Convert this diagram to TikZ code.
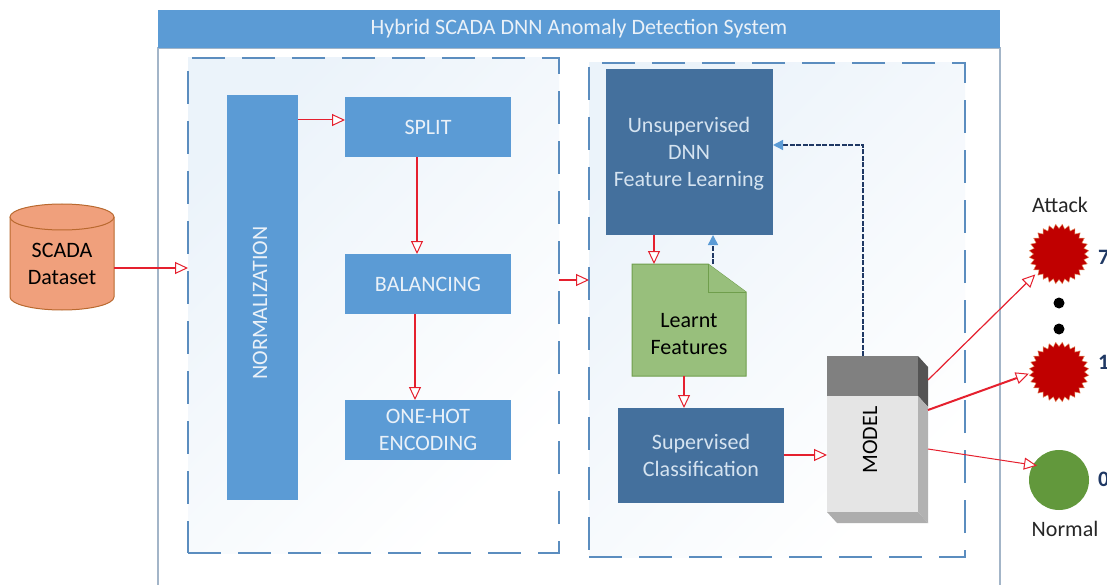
\documentclass[tikz,border=0pt]{standalone}
\usepackage{fontspec}
\setmainfont{Carlito}
\usetikzlibrary{arrows.meta,shapes.geometric,calc}
\definecolor{cBlue}{HTML}{5B9BD5}
\definecolor{cDeep}{HTML}{44709D}
\definecolor{cDash}{HTML}{5B8DBF}
\definecolor{cRed}{HTML}{E5202E}
\definecolor{cGreen}{HTML}{98BF7C}
\definecolor{cGreenD}{HTML}{6F9E4C}
\definecolor{cOrange}{HTML}{F0A07C}
\definecolor{cOrangeD}{HTML}{B9692F}
\definecolor{cNavy}{HTML}{1F3864}
\definecolor{cTxtL}{HTML}{EAF1F8}
\definecolor{cTxtD}{HTML}{D5E3F0}
\definecolor{cFrame}{HTML}{A3B5C8}
\definecolor{cBurst}{HTML}{C00000}
\definecolor{cBurstE}{HTML}{E8A070}
\definecolor{cNormal}{HTML}{62983C}
\tikzset{
  every node/.style={outer sep=0pt,inner sep=0pt,align=center,font=\fontsize{22}{27}\selectfont},
  light/.style={fill=cBlue,text=cTxtL},
  deep/.style={fill=cDeep,text=cTxtD},
  panel/.style={draw=cDash,line width=1.8pt,dash pattern=on 33pt off 17pt,left color=cBlue!12,right color=white,shading angle=45},
  flow/.style={draw=cRed,line width=#1,-{Triangle[open,length=13pt,width=12pt,fill=white,line width=1pt]}},
  flow/.default=2pt,
  back/.style={draw=cNavy,line width=1.5pt,dash pattern=on 5pt off 1.5pt,-{Triangle[length=10pt,width=10pt,fill=cBlue,color=cBlue]}},
  burst/.style={star,star points=28,star point ratio=0.85,minimum size=51pt,fill=cBurst,draw=cBurstE,line width=.4pt},
  outcome/.style={font=\fontsize{22}{24}\selectfont\bfseries,text=cNavy,anchor=west},
}
\newcommand{\bx}[6]{\node[#2,minimum width={#5-#3},minimum height={#6-#4}] (#1) at ({(#3+#5)/2},{(#4+#6)/2})}
\begin{document}
\begin{tikzpicture}[x=1pt,y=-1pt]
\useasboundingbox (0,0) rectangle (1107,585);
% system frame
\bx{body}{draw=cFrame,fill=white,line width=1.2pt}{158}{48}{1000}{590}{};
\bx{title}{fill=cBlue,text=cTxtL}{158}{10}{1000}{48}{Hybrid SCADA DNN Anomaly Detection System};
\bx{left}{panel}{188}{58}{559}{553}{};
\bx{right}{panel}{589}{63}{965}{557}{};
% left column
\bx{norm}{light}{227}{95}{298}{500}{};
\node[rotate=90,text=cTxtL] (normtext) at (260,303) {NORMALIZATION};
\bx{split}{light}{345}{97}{511}{157}{SPLIT};
\bx{balance}{light}{345}{254}{511}{314}{BALANCING};
\bx{onehot}{light}{345}{400}{511}{460}{ONE-HOT\\ENCODING};
% right column
\bx{unsup}{deep}{606}{69}{773}{235}{};
\node[text=cTxtD] (unsuptext) at (689,154) {Unsupervised\\DNN\\Feature Learning};
\bx{sup}{deep}{618}{408}{784}{503}{Supervised\\Classification};
% learnt features document
\bx{learnt}{}{632}{264}{746}{376}{};
\draw[cGreenD,fill=cGreen,line width=1pt] (632,264) -- (708,264) -- (746,292) -- (746,376) -- (632,376) -- cycle;
\draw[cGreenD,fill=cGreen,line width=1pt] (708,264) -- (708,292) -- (746,292);
\node[text=black] (learnttext) at (689,334) {Learnt\\Features};
% model block
\bx{model}{}{827}{356}{928}{523}{};
\fill[black!67] (918,356) -- (928,367) -- (928,407) -- (918,396) -- cycle;
\fill[black!30] (918,396) -- (928,407) -- (928,523) -- (918,512) -- cycle;
\fill[black!32] (827,512) -- (918,512) -- (928,523) -- (837,523) -- cycle;
\fill[black!10] (827,396) rectangle (918,512);
\fill[black!50] (827,356) rectangle (918,396);
\node[rotate=90,text=black] (modeltext) at (870,440) {MODEL};
% dataset cylinder
\bx{scada}{}{10}{204}{114}{310}{};
\draw[cOrangeD,fill=cOrange,line width=1pt] (10,217) -- (10,297) arc[start angle=180,end angle=360,x radius=52pt,y radius=13pt] -- (114,217);
\draw[cOrangeD,fill=cOrange,line width=1pt] (62,217) ellipse[x radius=52pt,y radius=13pt];
\node[text=black] (scadatext) at (62,264) {SCADA\\Dataset};
% outcomes
\node[burst] (a7) at (1059,254) {};
\node[burst] (a1) at (1059,372) {};
\node[circle,fill=cNormal,minimum size=60pt] (n0) at (1059,480) {};
\node[circle,fill=black,minimum size=11pt] (d1) at (1059,303) {};
\node[circle,fill=black,minimum size=11pt] (d2) at (1059,329) {};
\node[text=black!85] (att) at (1060,205) {Attack};
\node[text=black!85] (nor) at (1065,529) {Normal};
\node[outcome] (l7) at (1098,257) {7};
\node[outcome] (l1) at (1098,362) {1};
\node[outcome] (l0) at (1098,479) {0};
% connectors
\draw[flow] (scada.east |- 0,268) -- (left.west |- 0,268);
\draw[flow=1pt] (norm.east |- 0,120) -- (split.west |- 0,120);
\draw[flow] (split.south -| 417,0) -- (balance.north -| 417,0);
\draw[flow] (balance.south -| 415,0) -- (onehot.north -| 415,0);
\draw[flow] (left.east |- 0,280) -- (right.west |- 0,280);
\draw[flow] (unsup.south -| 654,0) -- (learnt.north -| 654,0);
\draw[flow] (learnt.south -| 684,0) -- (sup.north -| 684,0);
\draw[flow] (sup.east |- 0,455) -- (model.west |- 0,455);
\draw[flow=1.2pt,shorten >=5pt] (model.east |- 0,380) -- (a7.-140);
\draw[flow,shorten >=5pt] (model.east |- 0,410) -- (a1.west);
\draw[flow=1pt,shorten >=-4pt] (model.east |- 0,449) -- (n0.150);
\draw[back] (model.north -| 863,0) -- (863,145) -- (unsup.east |- 0,145);
\draw[back] (learnt.north -| 713,0) -- (unsup.south -| 713,0);
\end{tikzpicture}
\end{document}
